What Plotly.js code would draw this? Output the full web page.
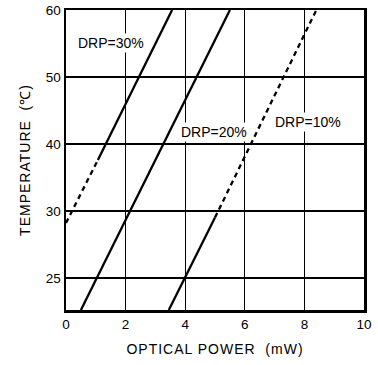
<!DOCTYPE html>
<html>
<head>
<meta charset="utf-8">
<script src="https://cdn.plot.ly/plotly-3.0.1.min.js"></script>
<style>
  html, body { margin: 0; padding: 0; background: #fff; }
  #chart { width: 378px; height: 365px; }
  .xtitle, .ytitle { letter-spacing: 1px; }
</style>
</head>
<body>
<div id="chart"></div>
<script>
// Optical power (mW) vs temperature for three DRP levels.
// Each curve has a solid (measured) part and a dashed (extrapolated) part.
const drp30SolidPower = [1.07, 3.56];
const drp30SolidTemp  = [37.6, 60];
const drp30DashPower  = [0, 1.07];
const drp30DashTemp   = [28.2, 37.6];

const drp20Power = [0.5, 5.5];
const drp20Temp  = [15.2, 60];

const drp10SolidPower = [3.45, 5.0];
const drp10SolidTemp  = [15.2, 29];
const drp10DashPower  = [5.0, 8.4];
const drp10DashTemp   = [29, 60];

const curveLabels = ['DRP=30%', 'DRP=20%', 'DRP=10%'];
const labelPower  = [1.52, 4.95, 8.12];
const labelTemp   = [55.1, 41.8, 43.3];

const xTickVals = [0, 2, 4, 6, 8, 10];
const yTickVals = [20, 30, 40, 50, 60];
const yTickText = ['25', '30', '40', '50', '60'];

const solid = {color: '#000', width: 2.3};
const dashed = {color: '#000', width: 2.3, dash: '5px,4px'};

const traces = [
  {x: drp30SolidPower, y: drp30SolidTemp, mode: 'lines', line: solid},
  {x: drp30DashPower,  y: drp30DashTemp,  mode: 'lines', line: dashed},
  {x: drp20Power,      y: drp20Temp,      mode: 'lines', line: solid},
  {x: drp10SolidPower, y: drp10SolidTemp, mode: 'lines', line: solid},
  {x: drp10DashPower,  y: drp10DashTemp,  mode: 'lines', line: dashed}
];

const font = {family: 'Liberation Sans, Arial, sans-serif', color: '#000'};
const nb = '\u00a0';

const layout = {
  width: 378, height: 365,
  margin: {l: 66, r: 14, t: 10, b: 55},
  paper_bgcolor: '#fff', plot_bgcolor: '#fff',
  showlegend: false,
  font: Object.assign({size: 13}, font),
  xaxis: {
    range: [0, 10], tickvals: xTickVals, ticks: '',
    showgrid: true, gridcolor: '#000', gridwidth: 1.3,
    zeroline: false, showline: true, mirror: true, linecolor: '#000', linewidth: 2.5,
    tickfont: Object.assign({size: 13.5}, font),
    title: {text: 'OPTICAL POWER' + nb + nb + '(mW)', font: Object.assign({size: 14}, font), standoff: 14},
    automargin: false, fixedrange: true
  },
  yaxis: {
    range: [15.2, 60], tickvals: yTickVals, ticktext: yTickText, ticks: '',
    showgrid: true, gridcolor: '#000', gridwidth: 1.3,
    zeroline: false, showline: true, mirror: true, linecolor: '#000', linewidth: 2.5,
    tickfont: Object.assign({size: 13.5}, font),
    title: {text: 'TEMPERATURE' + nb + nb + '(℃)' + nb.repeat(5), font: Object.assign({size: 14}, font), standoff: 12},
    automargin: false, fixedrange: true
  },
  annotations: curveLabels.map((t, i) => ({
    x: labelPower[i], y: labelTemp[i], xref: 'x', yref: 'y',
    text: t, showarrow: false, bgcolor: '#fff',
    font: Object.assign({size: 14}, font)
  }))
};

Plotly.newPlot('chart', traces, layout, {staticPlot: true, displayModeBar: false});
</script>
</body>
</html>
